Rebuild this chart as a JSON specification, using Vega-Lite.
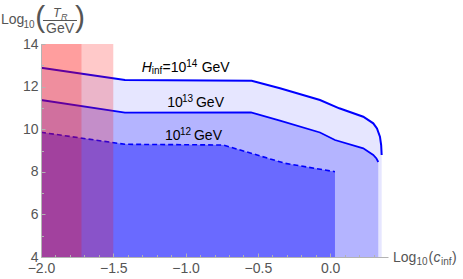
{
  "$schema": "https://vega.github.io/schema/vega-lite/v6.json",
  "width": 347,
  "height": 213,
  "autosize": {"type": "none"},
  "padding": {"left": 41, "top": 44, "right": 75, "bottom": 22},
  "config": {"view": {"stroke": null}, "font": "Liberation Sans"},
  "datasets": {
    "curves": [
      {"s": "t", "x": -2.0, "y": 12.887},
      {"s": "t", "x": -1.4193, "y": 12.310},
      {"s": "t", "x": -0.5429, "y": 12.277},
      {"s": "t", "x": -0.3472, "y": 11.920},
      {"s": "t", "x": -0.0705, "y": 11.371},
      {"s": "t", "x": 0.0629, "y": 10.981},
      {"s": "t", "x": 0.2289, "y": 10.587},
      {"s": "t", "x": 0.2981, "y": 10.277},
      {"s": "t", "x": 0.3237, "y": 10.033},
      {"s": "t", "x": 0.3444, "y": 9.648},
      {"s": "t", "x": 0.3527, "y": 9.258},
      {"s": "t", "x": 0.3562, "y": 8.789},
      {"s": "m", "x": -2.0, "y": 11.371},
      {"s": "m", "x": -1.4193, "y": 10.775},
      {"s": "m", "x": -0.5478, "y": 10.784},
      {"s": "m", "x": -0.3472, "y": 10.408},
      {"s": "m", "x": -0.0705, "y": 9.845},
      {"s": "m", "x": 0.0332, "y": 9.493},
      {"s": "m", "x": 0.2289, "y": 9.103},
      {"s": "m", "x": 0.2981, "y": 8.789},
      {"s": "m", "x": 0.3202, "y": 8.624},
      {"s": "m", "x": 0.3327, "y": 8.460},
      {"s": "b", "x": -2.0, "y": 9.854},
      {"s": "b", "x": -1.4193, "y": 9.291},
      {"s": "b", "x": -0.7394, "y": 9.258},
      {"s": "b", "x": -0.3126, "y": 8.399},
      {"s": "b", "x": 0.0332, "y": 8.005}
    ],
    "red": [
      {"x": -2.0, "xe": -1.5, "y": 4, "ye": 14},
      {"x": -2.0, "xe": -1.72, "y": 4, "ye": 14}
    ],
    "frac": [
      {"x": -1.9864, "xe": -1.7513, "y": 15.103}
    ],
    "labels": [
      {"g": "plot", "k": "ital", "x": -1.3038, "y": 12.700, "t": "H"},
      {"g": "plot", "k": "sub", "x": -1.2339, "y": 12.582, "t": "inf"},
      {"g": "plot", "k": "main", "x": -1.1592, "y": 12.700, "t": "=10"},
      {"g": "plot", "k": "sub", "x": -0.9953, "y": 12.934, "t": "14"},
      {"g": "plot", "k": "main", "x": -0.8888, "y": 12.700, "t": "GeV"},
      {"g": "plot", "k": "main", "x": -1.1267, "y": 11.056, "t": "10"},
      {"g": "plot", "k": "sub", "x": -1.0250, "y": 11.291, "t": "13"},
      {"g": "plot", "k": "main", "x": -0.9282, "y": 11.056, "t": "GeV"},
      {"g": "plot", "k": "main", "x": -1.1426, "y": 9.493, "t": "10"},
      {"g": "plot", "k": "sub", "x": -1.0389, "y": 9.728, "t": "12"},
      {"g": "plot", "k": "main", "x": -0.9420, "y": 9.493, "t": "GeV"},
      {"g": "axis", "k": "main", "x": -2.2770, "y": 14.939, "t": "Log"},
      {"g": "axis", "k": "sub", "x": -2.1213, "y": 14.728, "t": "10"},
      {"g": "axis", "k": "paren", "x": -2.0058, "y": 14.803, "t": "("},
      {"g": "axis", "k": "ital12", "x": -1.9173, "y": 15.268, "t": "T"},
      {"g": "axis", "k": "subital", "x": -1.8620, "y": 15.150, "t": "R"},
      {"g": "axis", "k": "center", "x": -1.8686, "y": 14.516, "t": "GeV"},
      {"g": "axis", "k": "paren", "x": -1.7305, "y": 14.803, "t": ")"},
      {"g": "axis", "k": "main", "x": 0.4344, "y": 3.7793, "t": "Log"},
      {"g": "axis", "k": "sub", "x": 0.5969, "y": 3.6244, "t": "10"},
      {"g": "axis", "k": "main", "x": 0.6799, "y": 3.7793, "t": "("},
      {"g": "axis", "k": "ital", "x": 0.7145, "y": 3.7793, "t": "c"},
      {"g": "axis", "k": "sub", "x": 0.7664, "y": 3.6244, "t": "inf"},
      {"g": "axis", "k": "main", "x": 0.8424, "y": 3.7793, "t": ")"}
    ]
  },
  "encoding": {
    "x": {
      "field": "x",
      "type": "quantitative",
      "scale": {"domain": [-2, 0.4], "nice": false, "zero": false},
      "axis": {
        "title": null,
        "grid": false,
        "zindex": 1,
        "values": [-2, -1.9, -1.8, -1.7, -1.6, -1.5, -1.4, -1.3, -1.2, -1.1, -1, -0.9, -0.8, -0.7, -0.6, -0.5, -0.4, -0.3, -0.2, -0.1, 0, 0.1, 0.2, 0.3],
        "format": ".1f",
        "labelExpr": "abs(datum.value*2 - round(datum.value*2)) < 0.01 ? datum.label : ''",
        "labelOverlap": false,
        "labelFlush": false,
        "labelFont": "Liberation Sans",
        "labelFontSize": 14,
        "labelColor": "#555555",
        "labelPadding": 8,
        "domainColor": "#b3b3b3",
        "tickColor": "#b3b3b3",
        "tickSize": {"condition": {"test": "abs(datum.value*2 - round(datum.value*2)) < 0.01", "value": -4}, "value": -2.5}
      }
    },
    "y": {
      "field": "y",
      "type": "quantitative",
      "scale": {"domain": [4, 14], "nice": false, "zero": false},
      "axis": {
        "title": null,
        "grid": false,
        "zindex": 1,
        "values": [4, 4.5, 5, 5.5, 6, 6.5, 7, 7.5, 8, 8.5, 9, 9.5, 10, 10.5, 11, 11.5, 12, 12.5, 13, 13.5, 14],
        "format": "d",
        "labelExpr": "datum.value % 2 == 0 ? datum.label : ''",
        "labelOverlap": false,
        "labelFlush": false,
        "labelFont": "Liberation Sans",
        "labelFontSize": 14,
        "labelColor": "#555555",
        "labelPadding": 7,
        "domainColor": "#b3b3b3",
        "tickColor": "#b3b3b3",
        "tickSize": {"condition": {"test": "datum.value % 2 == 0", "value": -4}, "value": -2.5}
      }
    }
  },
  "layer": [
    {
      "data": {"name": "curves"},
      "transform": [{"filter": "datum.s == 't'"}],
      "mark": {"type": "area", "color": "#e6e6ff"},
      "encoding": {"y2": {"datum": 4}}
    },
    {
      "data": {"name": "curves"},
      "transform": [{"filter": "datum.s == 'm'"}],
      "mark": {"type": "area", "color": "#b4b4ff"},
      "encoding": {"y2": {"datum": 4}}
    },
    {
      "data": {"name": "curves"},
      "transform": [{"filter": "datum.s == 'b'"}],
      "mark": {"type": "area", "color": "#6a6aff"},
      "encoding": {"y2": {"datum": 4}}
    },
    {
      "data": {"name": "curves"},
      "transform": [{"filter": "datum.s == 't'"}],
      "mark": {"type": "line", "color": "#0000ff", "strokeWidth": 2},
      "encoding": {}
    },
    {
      "data": {"name": "curves"},
      "transform": [{"filter": "datum.s == 'm'"}],
      "mark": {"type": "line", "color": "#0000ff", "strokeWidth": 1.8},
      "encoding": {}
    },
    {
      "data": {"name": "curves"},
      "transform": [{"filter": "datum.s == 'b'"}],
      "mark": {"type": "line", "color": "#0000ff", "strokeWidth": 1.6, "strokeDash": [5, 3]},
      "encoding": {}
    },
    {
      "data": {"name": "red"},
      "mark": {"type": "rect", "fill": "#ff0000", "fillOpacity": 0.21, "strokeWidth": 0},
      "encoding": {"x2": {"field": "xe"}, "y2": {"field": "ye"}}
    },
    {
      "data": {"name": "frac"},
      "mark": {"type": "rule", "color": "#555555", "strokeWidth": 1},
      "encoding": {"x2": {"field": "xe"}}
    },
    {
      "data": {"name": "labels"},
      "transform": [{"filter": "datum.k == 'main'"}],
      "mark": {"type": "text", "align": "left", "baseline": "alphabetic", "fontSize": 14},
      "encoding": {"text": {"field": "t"}, "color": {"field": "g", "type": "nominal", "scale": {"domain": ["axis", "plot"], "range": ["#555555", "#000000"]}, "legend": null}}
    },
    {
      "data": {"name": "labels"},
      "transform": [{"filter": "datum.k == 'ital'"}],
      "mark": {"type": "text", "align": "left", "baseline": "alphabetic", "fontSize": 14, "fontStyle": "italic"},
      "encoding": {"text": {"field": "t"}, "color": {"field": "g", "type": "nominal", "scale": {"domain": ["axis", "plot"], "range": ["#555555", "#000000"]}, "legend": null}}
    },
    {
      "data": {"name": "labels"},
      "transform": [{"filter": "datum.k == 'sub'"}],
      "mark": {"type": "text", "align": "left", "baseline": "alphabetic", "fontSize": 10},
      "encoding": {"text": {"field": "t"}, "color": {"field": "g", "type": "nominal", "scale": {"domain": ["axis", "plot"], "range": ["#555555", "#000000"]}, "legend": null}}
    },
    {
      "data": {"name": "labels"},
      "transform": [{"filter": "datum.k == 'ital12'"}],
      "mark": {"type": "text", "align": "left", "baseline": "alphabetic", "fontSize": 12.5, "fontStyle": "italic"},
      "encoding": {"text": {"field": "t"}, "color": {"field": "g", "type": "nominal", "scale": {"domain": ["axis", "plot"], "range": ["#555555", "#000000"]}, "legend": null}}
    },
    {
      "data": {"name": "labels"},
      "transform": [{"filter": "datum.k == 'subital'"}],
      "mark": {"type": "text", "align": "left", "baseline": "alphabetic", "fontSize": 9, "fontStyle": "italic"},
      "encoding": {"text": {"field": "t"}, "color": {"field": "g", "type": "nominal", "scale": {"domain": ["axis", "plot"], "range": ["#555555", "#000000"]}, "legend": null}}
    },
    {
      "data": {"name": "labels"},
      "transform": [{"filter": "datum.k == 'center'"}],
      "mark": {"type": "text", "align": "center", "baseline": "alphabetic", "fontSize": 14},
      "encoding": {"text": {"field": "t"}, "color": {"field": "g", "type": "nominal", "scale": {"domain": ["axis", "plot"], "range": ["#555555", "#000000"]}, "legend": null}}
    },
    {
      "data": {"name": "labels"},
      "transform": [{"filter": "datum.k == 'paren'"}],
      "mark": {"type": "text", "align": "center", "baseline": "alphabetic", "fontSize": 30},
      "encoding": {"text": {"field": "t"}, "color": {"field": "g", "type": "nominal", "scale": {"domain": ["axis", "plot"], "range": ["#555555", "#000000"]}, "legend": null}}
    }
  ]
}
